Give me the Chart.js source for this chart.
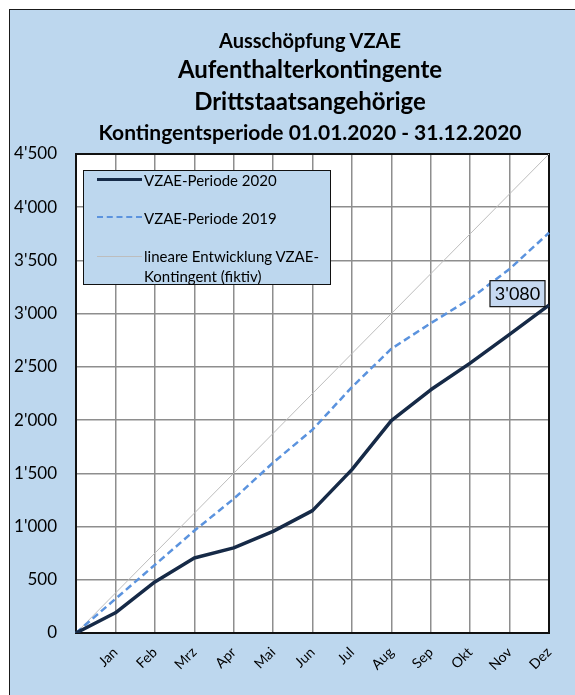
<!DOCTYPE html>
<html>
<head>
<meta charset="utf-8">
<script src="https://cdn.jsdelivr.net/npm/chart.js@4/dist/chart.umd.min.js"></script>
<style>
  html, body { margin: 0; padding: 0; background: #fff; }
  #wrap { position: relative; width: 575px; height: 695px; overflow: hidden; font-family: Lato, "Open Sans", sans-serif; }
  #frame { position: absolute; left: 9px; top: 9px; width: 620px; height: 730px; background: #BDD7EE; border: 1.5px solid #1a1a1a; box-sizing: border-box; }
  #c { position: absolute; left: 0; top: 0; }
  .t { position: absolute; left: 10px; width: 600px; text-align: center; font-weight: bold; color: #000; white-space: nowrap; }
  #legend { position: absolute; left: 83px; top: 170px; width: 248px; height: 115px; box-sizing: border-box; background: #BDD7EE; border: 1.5px solid #111; }
  .li { position: absolute; left: 60px; font-size: 15px; line-height: 20px; color: #000; white-space: nowrap; }
  .ls { position: absolute; left: 13px; width: 45px; height: 0; }
</style>
</head>
<body>
<div id="wrap">
  <div id="frame"></div>
  <canvas id="c" width="575" height="695"></canvas>
  <div id="titles"></div>
  <div id="legend"></div>
</div>
<script>
// ---- data ----
const months = ['', 'Jan', 'Feb', 'Mrz', 'Apr', 'Mai', 'Jun', 'Jul', 'Aug', 'Sep', 'Okt', 'Nov', 'Dez'];
const vzae2020 = [0, 190, 480, 705, 800, 955, 1150, 1535, 1995, 2285, 2535, 2805, 3080];
const vzae2019 = [0, 320, 640, 960, 1260, 1600, 1910, 2310, 2670, 2910, 3140, 3420, 3760];
const linearKontingent = [0, 375, 750, 1125, 1500, 1875, 2250, 2625, 3000, 3375, 3750, 4125, 4500];
const seriesNames = ['VZAE-Periode 2020', 'VZAE-Periode 2019', 'lineare Entwicklung VZAE-\nKontingent (fiktiv)'];
const titleLines = ['Ausschöpfung VZAE', 'Aufenthalterkontingente', 'Drittstaatsangehörige', 'Kontingentsperiode 01.01.2020 - 31.12.2020'];
const yMin = 0, yMax = 4500, yStep = 500;

// ---- styles ----
const colors = ['#162A47', '#5B93DE', '#BDBDBD'];
const titleStyle = [
  { size: 20, center: 40 },
  { size: 24, center: 68 },
  { size: 24, center: 100 },
  { size: 21, center: 131 }
];

function fmt(v) { return String(v).replace(/\B(?=(\d{3})+(?!\d))/g, "'"); }

// titles
const tdiv = document.getElementById('titles');
titleLines.forEach((txt, i) => {
  const d = document.createElement('div');
  d.className = 't';
  const s = titleStyle[i];
  const lh = Math.round(s.size * 1.2);
  d.style.fontSize = s.size + 'px';
  d.style.lineHeight = lh + 'px';
  d.style.top = (s.center - lh / 2) + 'px';
  d.textContent = txt;
  tdiv.appendChild(d);
});

// legend
const leg = document.getElementById('legend');
const legRows = [-1.5, 36.5, 75];
const sampleStyles = ['border-top: 3.5px solid ' + colors[0], 'border-top: 2.5px dashed ' + colors[1], 'border-top: 1px solid ' + colors[2]];
const sampleHalf = [1.75, 1.25, 0.5];
seriesNames.forEach((name, i) => {
  const s = document.createElement('div');
  s.className = 'ls';
  s.style.cssText += sampleStyles[i] + '; top:' + (legRows[i] + 10 - sampleHalf[i]) + 'px';
  leg.appendChild(s);
  const t = document.createElement('div');
  t.className = 'li';
  t.style.top = legRows[i] + 'px';
  t.innerHTML = name.split('\n').map(x => x.replace(/&/g, '&amp;')).join('<br>');
  leg.appendChild(t);
});

const framePlugin = {
  id: 'framePlugin',
  beforeDraw(chart) {
    const { ctx, chartArea: a } = chart;
    ctx.save();
    ctx.fillStyle = '#ffffff';
    ctx.fillRect(a.left, a.top, a.right - a.left, a.bottom - a.top);
    ctx.restore();
  },
  beforeDatasetsDraw(chart) {
    const { ctx, chartArea: a } = chart;
    ctx.save();
    ctx.strokeStyle = '#111111';
    ctx.lineWidth = 2;
    ctx.strokeRect(a.left, a.top, a.right - a.left, a.bottom - a.top);
    ctx.restore();
  },
  afterDatasetsDraw(chart) {
    const { ctx } = chart;
    const meta = chart.getDatasetMeta(0);
    const last = vzae2020.length - 1;
    const pt = meta.data[last];
    const txt = fmt(vzae2020[last]);
    ctx.save();
    ctx.font = '18px Lato, "Open Sans", sans-serif';
    const w = 55, h = 26;
    const x1 = pt.x - 4 - w, y1 = pt.y + 1.5 - h;
    ctx.fillStyle = '#C6D9F1';
    ctx.fillRect(x1, y1, w, h);
    ctx.strokeStyle = '#111';
    ctx.lineWidth = 1.2;
    ctx.strokeRect(x1, y1, w, h);
    ctx.fillStyle = '#000';
    ctx.textAlign = 'center';
    ctx.textBaseline = 'middle';
    ctx.fillText(txt, x1 + w / 2, y1 + h / 2 + 1);
    ctx.restore();
  }
};

new Chart(document.getElementById('c'), {
  type: 'line',
  data: {
    labels: months,
    datasets: [
      { label: seriesNames[0], data: vzae2020, borderColor: colors[0], borderWidth: 3.5, pointRadius: 0, tension: 0, borderJoinStyle: 'round' },
      { label: seriesNames[1], data: vzae2019, borderColor: colors[1], borderWidth: 2.5, borderDash: [7, 4], pointRadius: 0, tension: 0 },
      { label: seriesNames[2], data: linearKontingent, borderColor: colors[2], borderWidth: 1, pointRadius: 0, tension: 0 }
    ]
  },
  options: {
    responsive: false,
    animation: false,
    layout: { padding: { left: 0, top: 154, right: 26, bottom: 0 } },
    plugins: { legend: { display: false }, title: { display: false }, tooltip: { enabled: false } },
    scales: {
      x: {
        offset: false,
        grid: { color: '#8E8E8E', lineWidth: 1.5, drawTicks: false },
        border: { display: false },
        ticks: { color: '#000', font: { family: 'Lato, "Open Sans", sans-serif', size: 14 }, minRotation: 45, maxRotation: 45, padding: 11, autoSkip: false },
        afterFit(scale) { scale.height = 62; }
      },
      y: {
        min: yMin, max: yMax,
        grid: { color: '#8E8E8E', lineWidth: 1.5, drawTicks: false },
        border: { display: false },
        ticks: { stepSize: yStep, color: '#000', font: { family: 'Lato, "Open Sans", sans-serif', size: 17 }, padding: 19, callback: v => fmt(v) },
        afterFit(scale) { scale.width = 76; }
      }
    }
  },
  plugins: [framePlugin]
});
</script>
</body>
</html>
